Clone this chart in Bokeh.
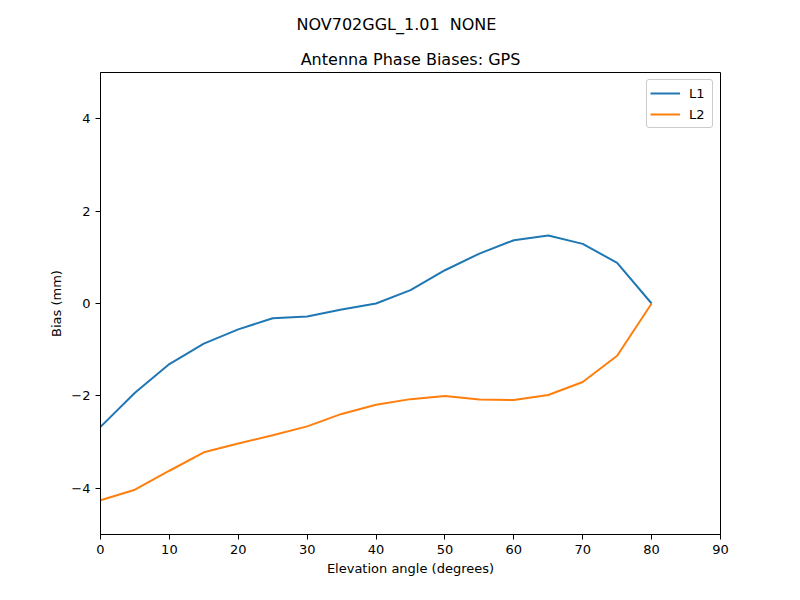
from bokeh.plotting import figure
from bokeh.models import Title, FixedTicker, Range1d, Legend, LegendItem
from bokeh.embed import file_html
from bokeh.resources import INLINE

elevation = [0, 5, 10, 15, 20, 25, 30, 35, 40, 45, 50, 55, 60, 65, 70, 75, 80]
l1_bias = [-2.67, -1.93, -1.31, -0.87, -0.56, -0.32, -0.28, -0.13, 0.0, 0.29, 0.72,
           1.08, 1.37, 1.47, 1.29, 0.88, 0.0]
l2_bias = [-4.26, -4.03, -3.62, -3.22, -3.03, -2.85, -2.66, -2.39, -2.19, -2.07, -2.0,
           -2.08, -2.09, -1.98, -1.70, -1.13, 0.0]
x_ticks = [0, 10, 20, 30, 40, 50, 60, 70, 80, 90]
y_ticks = [-4, -2, 0, 2, 4]

FONT = "DejaVu Sans"

p = figure(width=792, height=592, output_backend="svg", toolbar_location=None,
           x_range=Range1d(0, 90), y_range=Range1d(-5, 5),
           frame_width=620, frame_height=462,
           min_border_left=100, min_border_right=72, min_border_top=72, min_border_bottom=58)

p.title.text = "NOV702GGL_1.01\u00a0 NONE"
p.title.align = "left"
p.title.offset = 196
p.title.text_font = FONT
p.title.text_font_size = "16px"
p.title.text_font_style = "normal"
p.title.text_color = "black"
p.title.standoff = 19
p.add_layout(Title(text="Antenna Phase Biases: GPS", align="center", text_font=FONT,
                   text_font_size="16px", text_font_style="normal", text_color="black",
                   standoff=8), "above")

r1 = p.line(elevation, l1_bias, line_color="#1f77b4", line_width=2)
r2 = p.line(elevation, l2_bias, line_color="#ff7f0e", line_width=2)

legend = Legend(items=[LegendItem(label="L1", renderers=[r1]), LegendItem(label="L2", renderers=[r2])],
                location="top_right")
legend.label_text_font = FONT
legend.label_text_font_size = "13px"
legend.label_text_color = "black"
legend.border_line_color = "#cccccc"
legend.border_line_alpha = 1
legend.border_radius = 3
legend.margin = 7
legend.padding = 3
legend.spacing = 1
legend.glyph_width = 30
legend.label_standoff = 9
p.add_layout(legend)

p.grid.visible = False
p.outline_line_color = "black"
p.outline_line_width = 1

p.xaxis.ticker = FixedTicker(ticks=x_ticks)
p.yaxis.ticker = FixedTicker(ticks=y_ticks)
p.xaxis.axis_label = "Elevation angle (degrees)"
p.yaxis.axis_label = "Bias (mm)"
for ax in [p.xaxis, p.yaxis]:
    ax.axis_label_text_font = FONT
    ax.axis_label_text_font_size = "13px"
    ax.axis_label_text_font_style = "normal"
    ax.axis_label_text_color = "black"
    ax.major_label_text_font = FONT
    ax.major_label_text_font_size = "13px"
    ax.major_label_text_color = "black"
    ax.minor_tick_line_color = None
    ax.major_tick_out = 5
    ax.major_tick_in = 0
    ax.axis_line_color = "black"
    ax.major_tick_line_color = "black"
p.xaxis.axis_label_standoff = 4
p.yaxis.axis_label_standoff = 4
p.yaxis.major_label_orientation = "horizontal"

open("out.html", "w").write(file_html(p, INLINE))
